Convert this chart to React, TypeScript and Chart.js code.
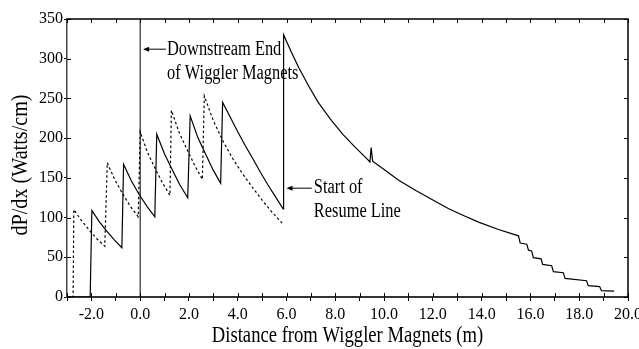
import React, { useEffect, useRef } from "react";
import { Chart, registerables } from "chart.js";

Chart.register(...registerables);

const X_MIN = -3;
const X_MAX = 20;
const X_STEP = 1;
const Y_MIN = 0;
const Y_MAX = 350;
const Y_STEP = 50;

// Solid curve (power deposition, case 1)
const solidX = [
  -3, -2.05, -1.98, -1.68, -1.37, -1.06, -0.75,
  -0.68, -0.36, -0.04, 0.28, 0.6,
  0.68, 1.0, 1.32, 1.63, 1.95,
  2.05, 2.36, 2.68, 2.99, 3.3,
  3.38, 3.7, 4.0, 4.3, 4.62, 4.93, 5.24, 5.55, 5.86,
  5.88, 6.2, 6.5, 6.9, 7.3, 7.8, 8.3, 8.8, 9.3, 9.42, 9.47, 9.53, 10.07, 10.6, 11.3, 12.0, 12.65, 13.3, 13.9, 14.69, 15.51,
  15.58, 15.85, 15.92, 16.05, 16.12, 16.44, 16.5, 16.87, 16.94, 17.35, 17.42, 18.3, 18.37, 18.84, 18.91, 19.43,
];
const solidY = [
  0, 0, 109, 95, 83, 72, 62,
  167, 146, 129, 114, 101,
  205, 180, 160, 141, 125,
  228, 201, 180, 160, 143,
  245, 226, 208, 191, 174, 157, 141, 126, 111,
  330, 308, 289, 266, 245, 224, 205, 189, 174, 170, 188, 171, 159, 147, 134, 122, 111, 102, 94, 85, 77,
  68, 66.4, 59, 58, 49.5, 48, 41, 39.4, 32, 30.6, 23.5, 20.5, 14.2, 13, 8, 7.5,
];

// Dashed curve (power deposition, case 2)
const dashedX = [
  -3, -2.75, -2.72, -2.4, -2.08, -1.77, -1.45,
  -1.35, -1.03, -0.72, -0.4, -0.08,
  0.0, 0.3, 0.61, 0.91, 1.22,
  1.28, 1.6, 1.92, 2.23, 2.55,
  2.63, 3.0, 3.4, 3.8, 4.2, 4.6, 5.0, 5.4, 5.82,
];
const dashedY = [
  0, 0, 110, 96, 84, 73, 64,
  169, 147, 130, 114, 101,
  208, 182, 162, 144, 128,
  235, 207, 186, 166, 148,
  253, 222, 196, 174, 155, 138, 122, 107, 93,
];

// Vertical marker: downstream end of wiggler magnets
const markerX = [0, 0];
const markerY = [0, 350];

const xTitle = "Distance from Wiggler Magnets (m)";
const yTitle = "dP/dx (Watts/cm)";
const noteWiggler = ["Downstream End", "of Wiggler Magnets"];
const noteResume = ["Start of", "Resume Line"];
// annotation anchors in data units
const noteWigglerTip = { x: 0.12, y: 312 };
const noteWigglerTextX = 1.1;
const noteResumeTip = { x: 6.0, y: 137 };
const noteResumeTextX = 7.12;

const SERIF = '"Liberation Serif", "Times New Roman", serif';

function pts(xs: number[], ys: number[]) {
  return xs.map((x, i) => ({ x, y: ys[i] }));
}

function condensedText(
  ctx: CanvasRenderingContext2D,
  text: string,
  x: number,
  y: number,
  size: number,
  sx: number,
  rot: number,
  align: CanvasTextAlign,
  baseline: CanvasTextBaseline
) {
  ctx.save();
  ctx.translate(x, y);
  if (rot) ctx.rotate(rot);
  ctx.scale(sx, 1);
  ctx.font = `${size}px ${SERIF}`;
  ctx.textAlign = align;
  ctx.textBaseline = baseline;
  ctx.fillStyle = "#000";
  ctx.fillText(text, 0, 0);
  ctx.restore();
}

function arrowLeft(ctx: CanvasRenderingContext2D, tipX: number, y: number, tailX: number) {
  ctx.save();
  ctx.strokeStyle = "#000";
  ctx.fillStyle = "#000";
  ctx.lineWidth = 1;
  ctx.beginPath();
  ctx.moveTo(tailX, y);
  ctx.lineTo(tipX + 2, y);
  ctx.stroke();
  ctx.beginPath();
  ctx.moveTo(tipX, y);
  ctx.lineTo(tipX + 6, y - 2.5);
  ctx.lineTo(tipX + 6, y + 2.5);
  ctx.closePath();
  ctx.fill();
  ctx.restore();
}

const framePlugin = {
  id: "frame",
  afterDraw(chart: any) {
    const { ctx, chartArea, scales } = chart;
    const { left, right, top, bottom } = chartArea;
    const xs = scales.x;
    const ys = scales.y;
    ctx.save();
    ctx.strokeStyle = "#000";
    ctx.lineWidth = 1.5;
    ctx.beginPath();
    ctx.moveTo(left, top);
    ctx.lineTo(right, top);
    ctx.lineTo(right, bottom);
    ctx.stroke();
    ctx.lineWidth = 1;
    ctx.beginPath();
    for (let v = X_MIN; v <= X_MAX; v += X_STEP) {
      const px = Math.round(xs.getPixelForValue(v)) + 0.5;
      ctx.moveTo(px, top);
      ctx.lineTo(px, top + 4);
      ctx.moveTo(px, bottom);
      ctx.lineTo(px, bottom - 4);
    }
    for (let v = Y_MIN; v <= Y_MAX; v += Y_STEP) {
      const py = Math.round(ys.getPixelForValue(v)) + 0.5;
      ctx.moveTo(right, py);
      ctx.lineTo(right - 4, py);
      ctx.moveTo(left, py);
      ctx.lineTo(left + 4, py);
    }
    ctx.stroke();
    ctx.restore();

    // axis titles
    condensedText(ctx, xTitle, (left + right) / 2, 342, 23, 0.81, 0, "center", "alphabetic");
    condensedText(ctx, yTitle, 21, 165, 24, 0.84, -Math.PI / 2, "center", "middle");

    // annotations
    const t1x = xs.getPixelForValue(noteWigglerTip.x);
    const t1y = ys.getPixelForValue(noteWigglerTip.y);
    const s1x = xs.getPixelForValue(noteWigglerTextX);
    arrowLeft(ctx, t1x, t1y, s1x - 1);
    condensedText(ctx, noteWiggler[0], s1x, t1y + 6, 20, 0.82, 0, "left", "alphabetic");
    condensedText(ctx, noteWiggler[1], s1x, t1y + 30, 20, 0.82, 0, "left", "alphabetic");

    const t2x = xs.getPixelForValue(noteResumeTip.x);
    const t2y = ys.getPixelForValue(noteResumeTip.y);
    const s2x = xs.getPixelForValue(noteResumeTextX);
    arrowLeft(ctx, t2x, t2y, s2x - 2);
    condensedText(ctx, noteResume[0], s2x, t2y + 5, 20, 0.82, 0, "left", "alphabetic");
    condensedText(ctx, noteResume[1], s2x, t2y + 28.5, 20, 0.82, 0, "left", "alphabetic");
  },
};

export default function App() {
  const ref = useRef<HTMLCanvasElement | null>(null);
  useEffect(() => {
    if (!ref.current) return;
    const chart = new Chart(ref.current, {
      type: "line",
      data: {
        datasets: [
          {
            data: pts(dashedX, dashedY),
            borderColor: "#000",
            borderWidth: 1.2,
            borderDash: [2.5, 2.5],
            pointRadius: 0,
            tension: 0,
            fill: false,
          },
          {
            data: pts(solidX, solidY),
            borderColor: "#000",
            borderWidth: 1.2,
            pointRadius: 0,
            tension: 0,
            fill: false,
          },
          {
            data: pts(markerX, markerY),
            borderColor: "#000",
            borderWidth: 1,
            pointRadius: 0,
            tension: 0,
            fill: false,
          },
        ],
      },
      options: {
        responsive: false,
        animation: false,
        parsing: true,
        layout: { padding: { left: 0, right: 11, top: 19, bottom: 0 } },
        plugins: { legend: { display: false }, tooltip: { enabled: false } },
        scales: {
          x: {
            type: "linear",
            min: X_MIN,
            max: X_MAX,
            afterFit: (s: any) => {
              s.height = 52;
              s.paddingLeft = 0;
              s.paddingRight = 0;
            },
            ticks: {
              stepSize: X_STEP,
              autoSkip: false,
              maxRotation: 0,
              padding: 4,
              color: "#000",
              font: { family: SERIF, size: 16 },
              callback: (v: any) => (Math.round(Number(v)) % 2 === 0 ? Number(v).toFixed(1) : ""),
            },
            grid: { drawOnChartArea: false, drawTicks: true, tickLength: 4, color: "#000", lineWidth: 1 },
            border: { display: true, color: "#333", width: 2 },
          },
          y: {
            type: "linear",
            min: Y_MIN,
            max: Y_MAX,
            afterFit: (s: any) => {
              s.width = 67;
              s.paddingTop = 0;
              s.paddingBottom = 0;
            },
            ticks: {
              stepSize: Y_STEP,
              autoSkip: false,
              padding: 1,
              color: "#000",
              font: { family: SERIF, size: 16 },
              callback: (v: any) => String(v),
            },
            grid: { drawOnChartArea: false, drawTicks: true, tickLength: 3, color: "#000", lineWidth: 1 },
            border: { display: true, color: "#444", width: 1.5 },
          },
        },
      },
      plugins: [framePlugin],
    });
    return () => chart.destroy();
  }, []);
  return (
    <div style={{ position: "fixed", left: 0, top: 0, width: 639, height: 349, background: "#fff" }}>
      <canvas ref={ref} width={639} height={349} style={{ width: 639, height: 349, display: "block" }} />
    </div>
  );
}
